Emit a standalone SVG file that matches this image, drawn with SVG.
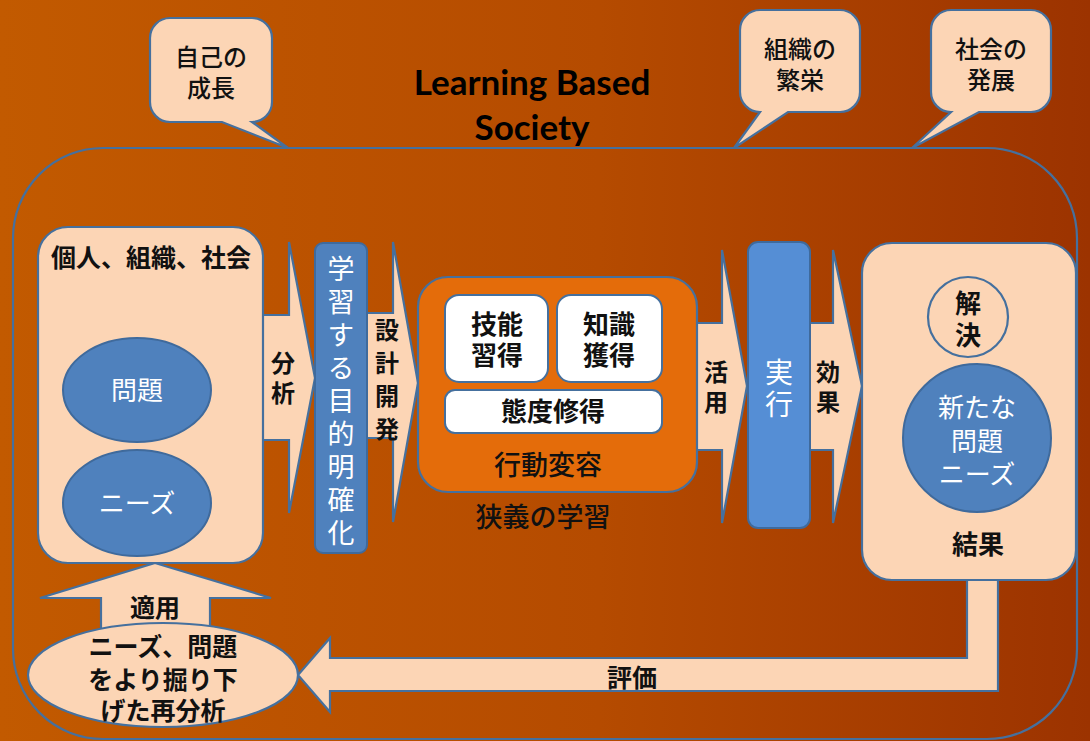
<svg xmlns="http://www.w3.org/2000/svg" width="1090" height="741" viewBox="0 0 1090 741">
<defs>
<linearGradient id="bg" x1="0" y1="0" x2="1" y2="0">
<stop offset="0" stop-color="#C25A00"/>
<stop offset="0.55" stop-color="#B54B00"/>
<stop offset="1" stop-color="#9C3300"/>
</linearGradient>
</defs>
<style>
.pe{fill:#FCD5B5;stroke:#45709E;stroke-width:2.2}
.bl{fill:#4F81BD;stroke:#3F6A9C;stroke-width:2}
.wh{fill:#FFFFFF;stroke:#45709E;stroke-width:2}
.t{font-family:"Noto Sans CJK JP","Noto Sans",sans-serif;text-anchor:middle;fill:#111}
.v{writing-mode:vertical-rl;text-orientation:upright}
.b{font-weight:700}
.m{font-weight:500}
.w{fill:#FFFFFF}
.ti{font-family:Lato,"Open Sans",sans-serif;font-weight:700;font-size:35px;text-anchor:middle;fill:#000}
</style>
<rect x="0" y="0" width="1090" height="741" fill="url(#bg)"/>
<rect id="frame" x="13" y="148" width="1064" height="591" rx="90" fill="none" stroke="#45709E" stroke-width="2.2"/>

<g id="title">
<text class="ti" x="532" y="95">Learning Based<tspan x="532" dy="45">Society</tspan></text>
</g>

<g id="callout-self">
<path class="pe" d="M170,18 H252 A20,20 0 0 1 272,38 V102 A20,20 0 0 1 252,122 L288,148 L222,122 H170 A20,20 0 0 1 150,102 V38 A20,20 0 0 1 170,18 Z"/>
<text class="t m" font-size="24" x="211" y="66">自己の<tspan x="211" dy="31">成長</tspan></text>
</g>
<g id="callout-org">
<path class="pe" d="M760,10 H840 A20,20 0 0 1 860,30 V92 A20,20 0 0 1 840,112 H788 L734,148 L760,112 A20,20 0 0 1 740,92 V30 A20,20 0 0 1 760,10 Z"/>
<text class="t m" font-size="24" x="800" y="58">組織の<tspan x="800" dy="31">繁栄</tspan></text>
</g>
<g id="callout-soc">
<path class="pe" d="M951,10 H1031 A20,20 0 0 1 1051,30 V92 A20,20 0 0 1 1031,112 H979 L912,148 L951,112 A20,20 0 0 1 931,92 V30 A20,20 0 0 1 951,10 Z"/>
<text class="t m" font-size="24" x="991" y="58">社会の<tspan x="991" dy="31">発展</tspan></text>
</g>

<g id="connectors">
<path class="pe" d="M255,315 H289 V242 L315,378 L289,513 V440 H255 Z"/>
<path class="pe" d="M360,313 H393 V242 L418,383 L393,522 V438 H360 Z"/>
<path class="pe" d="M690,323 H722 V250 L747,386 L722,523 V450 H690 Z"/>
<path class="pe" d="M805,323 H833 V250 L862,386 L833,523 V450 H805 Z"/>
<path class="pe" d="M967,570 V658 H330 V638 L298,675 L330,712 V691 H998 V570 Z"/>
<path class="pe" d="M155,563 L271,598 H210 V640 H101 V598 H40 Z"/>
<g class="t b" font-size="24">
<text class="v" x="283" y="381" letter-spacing="6">分析</text>
<text class="v" x="387" y="384" letter-spacing="9">設計開発</text>
<text class="v" x="716" y="390" letter-spacing="6">活用</text>
<text class="v" x="828" y="390" letter-spacing="6">効果</text>
<text x="632" y="687" font-size="25">評価</text>
<text x="155" y="617" font-size="25">適用</text>
</g>
</g>

<g id="source">
<rect class="pe" x="38" y="227" width="225" height="336" rx="30"/>
<text class="t b" font-size="25" x="151" y="267">個人、組織、社会</text>
</g>
<g id="problem">
<ellipse class="bl" cx="137" cy="390" rx="74" ry="52"/>
<text class="t w" font-size="26" x="137" y="400">問題</text>
</g>
<g id="needs">
<ellipse class="bl" cx="137" cy="503" rx="74" ry="53"/>
<text class="t w" font-size="26" x="137" y="513">ニーズ</text>
</g>

<g id="purpose">
<rect class="bl" x="315" y="243" width="52" height="310" rx="8"/>
<text class="t w v" font-size="27" x="341" y="404" letter-spacing="6">学習する目的明確化</text>
</g>

<g id="behavior">
<rect x="418" y="277" width="279" height="215" rx="30" fill="#E46C0A" stroke="#45709E" stroke-width="2.2"/>
<text class="t m" font-size="27" x="548" y="475">行動変容</text>
</g>
<g id="skill">
<rect class="wh" x="445" y="295" width="103" height="87" rx="14"/>
<text class="t b" font-size="26" x="497" y="334">技能<tspan x="497" dy="31">習得</tspan></text>
</g>
<g id="knowledge">
<rect class="wh" x="557" y="295" width="105" height="87" rx="14"/>
<text class="t b" font-size="26" x="609" y="334">知識<tspan x="609" dy="31">獲得</tspan></text>
</g>
<g id="attitude">
<rect class="wh" x="445" y="390" width="217" height="43" rx="10"/>
<text class="t b" font-size="26" x="553" y="421">態度修得</text>
</g>
<text id="narrow" class="t m" font-size="27" x="543" y="527">狭義の学習</text>

<g id="execute">
<rect x="748" y="242" width="62" height="286" rx="10" fill="#558ED5" stroke="#3F6A9C" stroke-width="2"/>
<text class="t w v" font-size="28" x="779" y="390" letter-spacing="4">実行</text>
</g>

<g id="result">
<rect class="pe" x="862" y="243" width="214" height="337" rx="30"/>
<text class="t b" font-size="26" x="978" y="554">結果</text>
</g>
<g id="solve">
<circle cx="968" cy="317" r="40" fill="#FCD5B5" stroke="#45709E" stroke-width="2.2"/>
<text class="t b v" font-size="26" x="968" y="322" letter-spacing="6">解決</text>
</g>
<g id="newproblem">
<circle class="bl" cx="977" cy="438" r="74"/>
<text class="t w" font-size="26" x="977" y="417">新たな<tspan x="977" dy="34">問題</tspan><tspan x="977" dy="33">ニーズ</tspan></text>
</g>

<g id="reanalysis">
<ellipse class="pe" cx="163" cy="675" rx="135" ry="52"/>
<text class="t b" font-size="25" x="163" y="656">ニーズ、問題<tspan x="163" dy="33">をより掘り下</tspan><tspan x="163" dy="31">げた再分析</tspan></text>
</g>
</svg>
